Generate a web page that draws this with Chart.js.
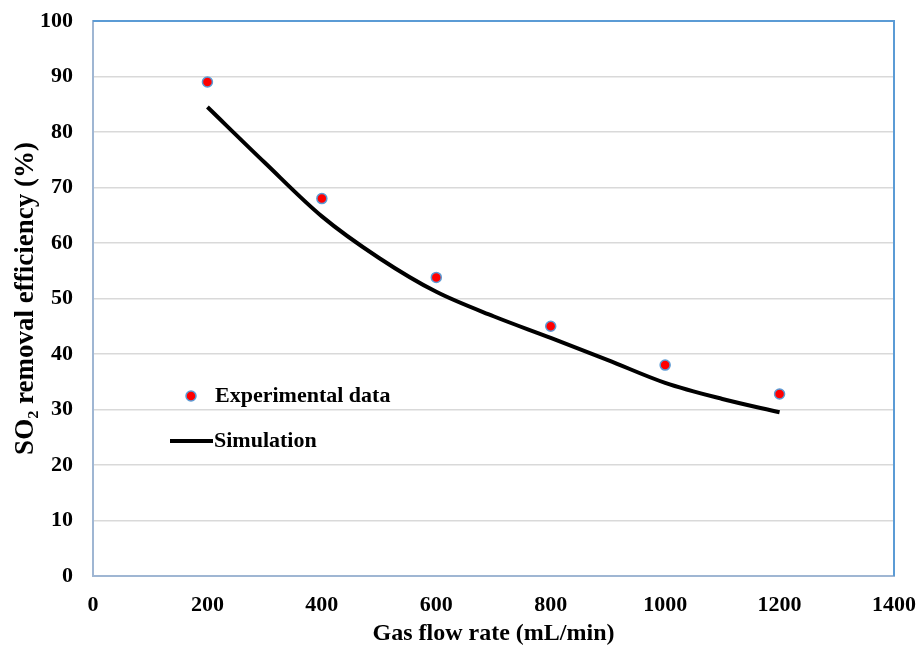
<!DOCTYPE html>
<html>
<head>
<meta charset="utf-8">
<script src="https://cdn.jsdelivr.net/npm/chart.js@4/dist/chart.umd.min.js"></script>
<style>
  html, body { margin: 0; padding: 0; background: #fff; }
  #wrap { width: 918px; height: 648px; }
</style>
</head>
<body>
<div id="wrap"><canvas id="chart"></canvas></div>
<script>
// measured points
var expFlow = [200, 400, 600, 800, 1000, 1200];
var expEff = [89, 68, 53.8, 45, 38, 32.8];
// model curve
var simFlow = [200, 300, 400, 500, 600, 700, 800, 900, 1000, 1100, 1200];
var simEff = [84.5, 74.5, 64.8, 57.3, 51.2, 46.8, 42.9, 38.9, 34.8, 31.9, 29.5];

var serif = '"Liberation Serif", "Times New Roman", serif';
var tickFont = { family: serif, size: 22, weight: 'bold' };

function toPoints(xs, ys) {
    var out = [];
    for (var i = 0; i < xs.length; i++) {
        out.push({ x: xs[i], y: ys[i] });
    }
    return out;
}

// legend sits inside the plot, drawn by hand
var insideLegend = {
    id: 'insideLegend',
    afterDraw: function(chart) {
        var ctx = chart.ctx;
        var a = chart.chartArea;
        ctx.save();
        // plot frame
        ctx.strokeStyle = '#5b9bd5';
        ctx.lineWidth = 2;
        ctx.beginPath();
        ctx.moveTo(a.left, a.top);
        ctx.lineTo(a.right, a.top);
        ctx.lineTo(a.right, a.bottom);
        ctx.stroke();

        ctx.font = 'bold 22px ' + serif;
        ctx.textBaseline = 'middle';
        // marker entry
        ctx.beginPath();
        ctx.arc(a.left + 98, a.top + 375, 5, 0, Math.PI * 2);
        ctx.fillStyle = '#ff0000';
        ctx.fill();
        ctx.lineWidth = 1.5;
        ctx.strokeStyle = '#5b9bd5';
        ctx.stroke();
        ctx.fillStyle = '#000';
        ctx.fillText('Experimental data', a.left + 122, a.top + 375);
        // line entry
        ctx.beginPath();
        ctx.moveTo(a.left + 77, a.top + 420);
        ctx.lineTo(a.left + 120, a.top + 420);
        ctx.strokeStyle = '#000';
        ctx.lineWidth = 4;
        ctx.stroke();
        ctx.fillText('Simulation', a.left + 121, a.top + 420);
        ctx.restore();
    }
};

new Chart(document.getElementById('chart'), {
    type: 'scatter',
    data: {
        datasets: [
            {
                label: 'Simulation',
                data: toPoints(simFlow, simEff),
                showLine: true,
                borderColor: '#000',
                borderWidth: 4,
                cubicInterpolationMode: 'monotone',
                pointRadius: 0,
                order: 2
            },
            {
                label: 'Experimental data',
                data: toPoints(expFlow, expEff),
                backgroundColor: '#ff0000',
                borderColor: '#5b9bd5',
                borderWidth: 1.5,
                pointRadius: 5,
                order: 1
            }
        ]
    },
    options: {
        responsive: true,
        maintainAspectRatio: false,
        animation: false,
        layout: { padding: { top: 21, right: 24, left: 0, bottom: 0 } },
        plugins: {
            legend: { display: false },
            tooltip: { enabled: false }
        },
        scales: {
            x: {
                type: 'linear',
                min: 0,
                max: 1400,
                ticks: {
                    stepSize: 200, color: '#000', font: tickFont, padding: 16,
                    callback: function(v) { return String(v); }
                },
                grid: { display: false, drawTicks: false },
                border: { color: '#9fb6d3', width: 2 },
                title: { display: true, text: 'Gas flow rate (mL/min)', color: '#000', font: { family: serif, size: 24, weight: 'bold' }, padding: { top: 4, bottom: 0 } },
                afterFit: function(s) {
                    s.height = 72;
                    s.paddingLeft = 0;
                    s.paddingRight = 0;
                }
            },
            y: {
                min: 0,
                max: 100,
                ticks: { stepSize: 10, color: '#000', font: tickFont, padding: 20 },
                grid: { color: '#d9d9d9', lineWidth: 1.5, drawTicks: false },
                border: { color: '#9fb6d3', width: 2 },
                title: { display: true, text: 'SO₂ removal efficiency (%)', color: '#000', font: { family: serif, size: 27, weight: 'bold' }, padding: { top: 10, bottom: 0 } },
                afterFit: function(s) {
                    s.width = 93;
                    s.paddingTop = 0;
                    s.paddingBottom = 0;
                }
            }
        }
    },
    plugins: [insideLegend]
});
</script>
</body>
</html>
